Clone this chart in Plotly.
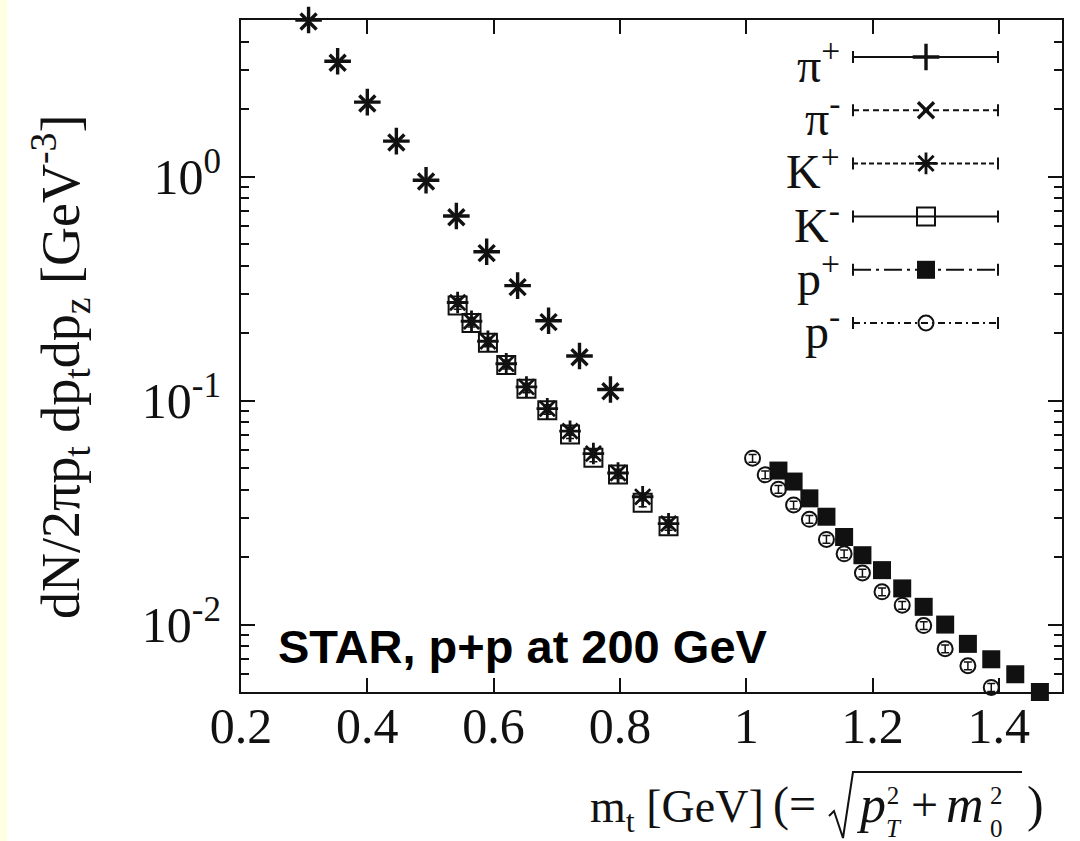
import math
import plotly.graph_objects as go

# ---------------------------------------------------------------------------
# Invariant yields dN/(2π p_t dp_t dp_z) [GeV^-3] versus m_t [GeV]
# ---------------------------------------------------------------------------
pi_mt = [0.307, 0.353, 0.400, 0.446, 0.493, 0.541, 0.589, 0.638, 0.687, 0.736, 0.785]
pi_plus = [5.0, 3.27, 2.15, 1.44, 0.963, 0.667, 0.462, 0.326, 0.227, 0.158, 0.112]
pi_minus = [4.92, 3.22, 2.12, 1.42, 0.950, 0.658, 0.455, 0.321, 0.224, 0.156, 0.110]

k_mt = [0.543, 0.565, 0.591, 0.620, 0.652, 0.685, 0.721, 0.758, 0.797, 0.836, 0.877]
k_plus = [0.274, 0.226, 0.184, 0.146, 0.115, 0.092, 0.073, 0.058, 0.0475, 0.0372, 0.0282]
k_minus = [0.266, 0.222, 0.181, 0.144, 0.113, 0.0905, 0.0705, 0.0555, 0.0468, 0.0350, 0.0275]

p_minus_mt = [1.010, 1.030, 1.051, 1.075, 1.100, 1.127, 1.155, 1.184, 1.215, 1.247,
              1.281, 1.315, 1.351, 1.388]
p_minus = [0.0553, 0.0466, 0.0402, 0.0342, 0.0295, 0.0240, 0.0207, 0.0170, 0.0140, 0.0122,
           0.0099, 0.0078, 0.00655, 0.00524]
p_plus_mt = [1.051, 1.075, 1.100, 1.127, 1.155, 1.184, 1.215, 1.247, 1.281, 1.315,
             1.351, 1.388, 1.426, 1.465]
p_plus = [0.0487, 0.0435, 0.0366, 0.0303, 0.0246, 0.0204, 0.0175, 0.0145, 0.0120, 0.0100,
          0.0082, 0.0070, 0.0060, 0.0050]

x_ticks = [0.2, 0.4, 0.6, 0.8, 1.0, 1.2, 1.4]
x_tick_text = ["0.2", "0.4", "0.6", "0.8", "1", "1.2", "1.4"]
y_ticks = [0.01, 0.1, 1]
y_tick_text = ["10<sup>-2</sup>", "10<sup>-1</sup>", "10<sup>0</sup>"]
y_minor = [m * 10 ** e for e in (-3, -2, -1, 0) for m in range(2, 10)]

legend_labels = ["π<sup>+</sup>", "π<sup>-</sup>", "K<sup>+</sup>",
                 "K<sup>-</sup>", "p<sup>+</sup>", "p<sup>-</sup>"]

# ---------------------------------------------------------------------------
# Page geometry and style
# ---------------------------------------------------------------------------
W, H = 1080, 841
ML, MR, MT, MB = 241, 18, 20, 149
PW, PH = W - ML - MR, H - MT - MB

SERIF = "Liberation Serif, Times New Roman, serif"
SANS = "Liberation Sans, Arial, sans-serif"
INK = "#111111"


def fx(px):
    """page pixel column -> paper x"""
    return (px - ML) / PW


def fy(py):
    """page pixel row -> paper y"""
    return (H - MB - py) / PH


# marker styles per species: symbol, size, stroke width, error bars, key dash
STYLES = [
    dict(symbol="cross-thin-open", size=19, lw=3.4, err=False, dash="solid"),
    dict(symbol="x-thin-open", size=16, lw=3.4, err=False, dash="6px,4px"),
    dict(symbol="asterisk-open", size=18, lw=2.8, err=True, dash="5px,3px"),
    dict(symbol="square-open", size=18, lw=2.0, err=True, dash="solid"),
    dict(symbol="square", size=18, lw=0.0, err=True, dash="18px,5px,3px,5px"),
    dict(symbol="circle-open", size=15, lw=2.0, err=True, dash="7px,4px,2px,4px"),
]
SERIES = [
    (pi_mt, pi_plus),
    (pi_mt, pi_minus),
    (k_mt, k_plus),
    (k_mt, k_minus),
    (p_plus_mt, p_plus),
    (p_minus_mt, p_minus),
]

fig = go.Figure()

for (xs, ys), st, name in zip(SERIES, STYLES, legend_labels):
    err = dict(type="percent", value=4, width=4, thickness=1.5, color=INK) if st["err"] else None
    fig.add_trace(go.Scatter(
        x=xs, y=ys, mode="markers", name=name, cliponaxis=False,
        marker=dict(symbol=st["symbol"], size=st["size"], color=INK,
                    line=dict(color=INK, width=st["lw"])),
        error_y=err,
    ))

# ---------------------------------------------------------------------------
# Key (gnuplot-style): label, sample line with end caps, marker in the middle
# ---------------------------------------------------------------------------
KEY_ROW0, KEY_STEP = 57, 53.2
KEY_X0, KEY_X1, KEY_XM, KEY_LABEL_X = 853, 998, 926, 841
CAP = 6

shapes = []
annotations = []
for i, (label, st) in enumerate(zip(legend_labels, STYLES)):
    row = KEY_ROW0 + i * KEY_STEP
    shapes.append(dict(type="line", xref="paper", yref="paper",
                       x0=fx(KEY_X0), x1=fx(KEY_X1), y0=fy(row), y1=fy(row),
                       line=dict(color=INK, width=2, dash=st["dash"])))
    for cx in (KEY_X0, KEY_X1):
        shapes.append(dict(type="line", xref="paper", yref="paper",
                           x0=fx(cx), x1=fx(cx), y0=fy(row - CAP), y1=fy(row + CAP),
                           line=dict(color=INK, width=2)))
    annotations.append(dict(text=label, xref="paper", yref="paper",
                            x=fx(KEY_LABEL_X), y=fy(row + 5), xanchor="right",
                            yanchor="middle", showarrow=False, borderpad=0,
                            font=dict(family=SERIF, size=48, color=INK)))
    fig.add_trace(go.Scatter(
        x=[fx(KEY_XM)], y=[fy(row)], mode="markers", xaxis="x2", yaxis="y2",
        showlegend=False, cliponaxis=False, hoverinfo="skip",
        marker=dict(symbol=st["symbol"], size=st["size"], color=INK,
                    line=dict(color=INK, width=st["lw"])),
    ))

# ---------------------------------------------------------------------------
# Texts
# ---------------------------------------------------------------------------
annotations.append(dict(text="<b>STAR, p+p at 200 GeV</b>", xref="paper", yref="paper",
                        x=fx(276), y=fy(646), xanchor="left", yanchor="middle",
                        showarrow=False, font=dict(family=SANS, size=47, color="#000000")))

annotations.append(dict(
    text="dN/2πp<sub>t</sub> dp<sub>t</sub>dp<sub>z</sub> [GeV<sup>-3</sup>]",
    xref="paper", yref="paper", x=fx(60), y=fy(367), xanchor="center", yanchor="middle",
    textangle=-90, showarrow=False, font=dict(family=SERIF, size=54, color=INK)))


def title_piece(text, px, py, size, anchor="left"):
    annotations.append(dict(text=text, xref="paper", yref="paper", x=fx(px), y=fy(py),
                            xanchor=anchor, yanchor="middle", showarrow=False,
                            borderpad=0, font=dict(family=SERIF, size=size, color=INK)))


MAIN_Y = 804
title_piece("m<sub>t</sub> [GeV]", 765, MAIN_Y + 6, 46, anchor="right")
title_piece("(=", 772, MAIN_Y, 48)
title_piece("<i>p</i>", 855, MAIN_Y, 52)
title_piece("2<br><i>T</i>", 885, 812, 25)
title_piece("+", 910, MAIN_Y, 48)
title_piece("<i>m</i>", 945, MAIN_Y, 52)
title_piece("2<br>0", 989, 812, 25)
title_piece(")", 1026, MAIN_Y, 50)

# radical sign with its vinculum
rad = [(829, 816), (834, 811), (843, 838), (853, 772), (1022, 772)]
shapes.append(dict(type="path", xref="paper", yref="paper",
                   path="M " + " L ".join(f"{fx(a):.5f},{fy(b):.5f}" for a, b in rad),
                   line=dict(color=INK, width=2)))

# pale strip along the left page edge
shapes.append(dict(type="rect", xref="paper", yref="paper", layer="below",
                   x0=fx(0), x1=fx(7), y0=fy(H), y1=fy(0),
                   fillcolor="#FFFFE2", line=dict(width=0)))

axis_common = dict(showline=True, linewidth=2, linecolor=INK, mirror="ticks",
                   ticks="inside", ticklen=14, tickwidth=2, tickcolor=INK,
                   showgrid=False, zeroline=False,
                   tickfont=dict(family=SERIF, size=50, color=INK))

fig.update_layout(
    width=W, height=H,
    margin=dict(l=ML, r=MR, t=MT, b=MB, pad=0),
    paper_bgcolor="white", plot_bgcolor="white",
    showlegend=False,
    font=dict(family=SERIF, size=50, color=INK),
    xaxis=dict(range=[0.2, 1.5], tickvals=x_ticks, ticktext=x_tick_text,
               ticklabelstandoff=-11, **axis_common),
    yaxis=dict(type="log", range=[math.log10(0.005), math.log10(5)],
               tickvals=y_ticks, ticktext=y_tick_text, ticklabelstandoff=8,
               minor=dict(tickvals=y_minor, ticks="inside", ticklen=8, tickwidth=2,
                          tickcolor=INK, showgrid=False),
               **axis_common),
    xaxis2=dict(overlaying="x", anchor="y2", range=[0, 1], visible=False),
    yaxis2=dict(overlaying="y", anchor="x2", range=[0, 1], visible=False),
    shapes=shapes,
    annotations=annotations,
)

fig.write_html("out.html")
